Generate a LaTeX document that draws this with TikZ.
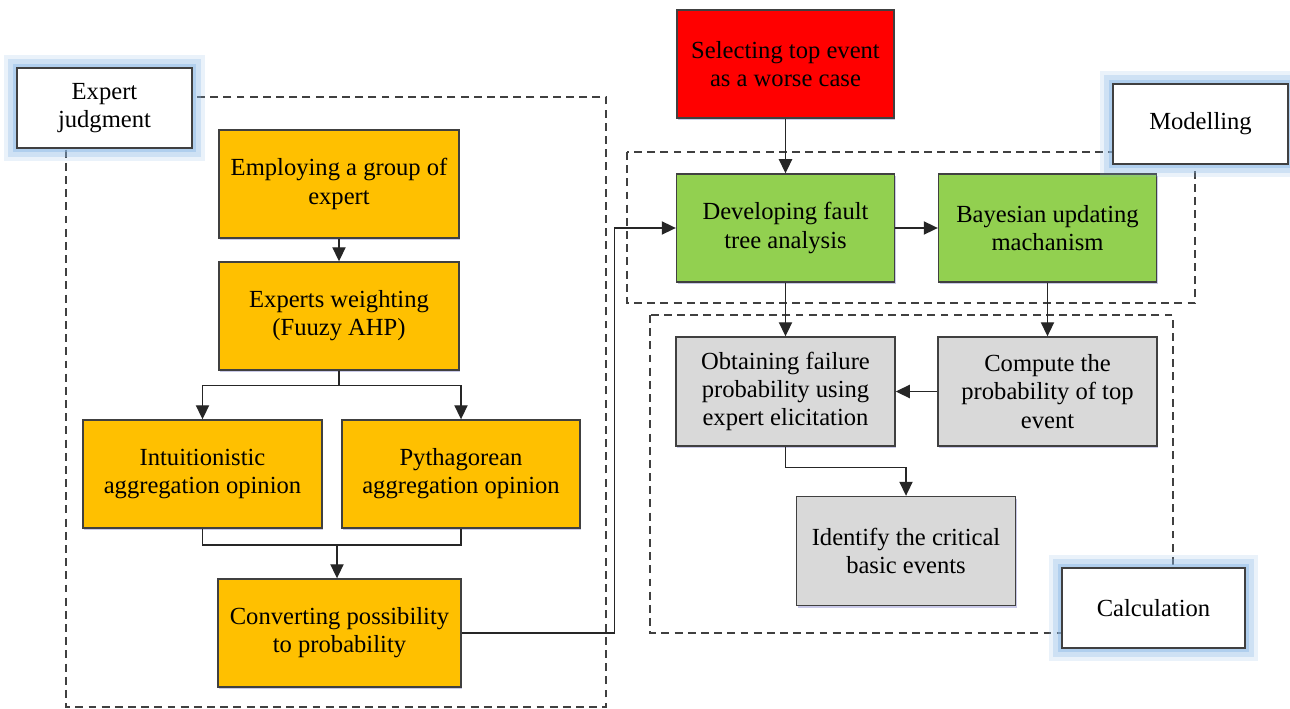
\documentclass[tikz,border=0pt]{standalone}
\usepackage{fontspec}
\setmainfont{Liberation Serif}
\usetikzlibrary{arrows.meta,shadows}

\definecolor{expertyellow}{HTML}{FFC000}
\definecolor{modelgreen}{HTML}{92D050}
\definecolor{calcgray}{HTML}{D9D9D9}
\definecolor{glowblue}{RGB}{140,185,230}

\begin{document}
\begin{tikzpicture}[x=0.02cm,y=-0.02cm]
    \tikzset{block/.style={draw=black!75, line width=0.8pt, shape=rectangle, align=center,
                 font=\fontsize{14}{16}\selectfont, inner sep=2pt,
                 drop shadow={shadow xshift=0.6pt, shadow yshift=-1.4pt, fill=blue!40!gray, opacity=0.3}},
             expert/.style={block, fill=expertyellow, minimum width=4.8cm, minimum height=2.16cm},
             model/.style={block, fill=modelgreen, minimum width=4.36cm, minimum height=2.16cm},
             calc/.style={block, fill=calcgray, minimum width=4.38cm, minimum height=2.18cm},
             tag/.style={draw=black!75, line width=0.8pt, fill=white, align=center,
                 font=\fontsize{14}{16}\selectfont, minimum width=3.5cm, minimum height=1.6cm,
                 preaction={draw=glowblue, line width=15pt, opacity=0.18, rounded corners=7pt},
                 preaction={draw=glowblue, line width=10pt, opacity=0.3, rounded corners=5pt},
                 preaction={draw=glowblue, line width=5pt, opacity=0.45, rounded corners=2pt}},
             frame/.style={draw=black!75, line width=0.8pt, dash pattern=on 4.5pt off 3pt},
             arr/.style={draw=black!85, line width=0.8pt, -{Triangle[length=8pt,width=7.5pt]}},
             line/.style={draw=black!85, line width=0.8pt}}
    \useasboundingbox (0,0) rectangle (1290,709);

    % group frames
    \draw[frame] (66,97) rectangle (606,707);
    \draw[frame] (627,152) rectangle (1195,303);
    \draw[frame] (650,315) rectangle (1173,633);

    % expert judgment
    \node[expert] (employ) at (339,184) {Employing a group of\\expert};
    \node[expert] (weight) at (339,316) {Experts weighting\\(Fuuzy AHP)};
    \node[expert, minimum width=4.78cm] (intuit) at (202.5,474) {Intuitionistic\\aggregation opinion};
    \node[expert, minimum width=4.76cm] (pytha) at (461,474) {Pythagorean\\aggregation opinion};
    \node[expert, minimum width=4.86cm] (convert) at (339.5,633) {Converting possibility\\to probability};
    \coordinate (join) at (337,545);

    % modelling and calculation
    \node[block, fill=red, minimum width=4.34cm, minimum height=2.16cm] (select) at (785.5,64) {Selecting top event\\as a worse case};
    \node[model] (develop) at (785.5,228) {Developing fault\\tree analysis};
    \node[model] (bayes) at (1047.5,228) {Bayesian updating\\machanism};
    \node[calc] (obtain) at (785.5,391.5) {Obtaining failure\\probability using\\expert elicitation};
    \node[calc] (compute) at (1047.5,391.5) {Compute the\\probability of top\\event};
    \node[calc] (identify) at (906,551) {Identify the critical\\basic events};

    % tags
    \node[tag] (experttag) at (104.5,108) {Expert\\judgment};
    \node[tag] (modeltag) at (1200.5,124) {Modelling};
    \node[tag, minimum width=3.66cm] (calctag) at (1153.5,608) {Calculation};

    \draw[arr] (employ) -- (weight);
    \draw[arr] (weight.south) -- ++(0,15) -| (intuit.north);
    \draw[arr] (weight.south) -- ++(0,15) -| (pytha.north);
    \draw[line] (intuit.south) |- (join) -| (pytha.south);
    \draw[arr] (join) -- (join |- convert.north);
    \draw[arr] (convert.east) -- ++(153,0) |- (develop.west);

    \draw[arr] (select) -- (develop);
    \draw[arr] (develop) -- (bayes);
    \draw[arr] (develop) -- (obtain);
    \draw[arr] (bayes) -- (compute);
    \draw[arr] (compute) -- (obtain);
    \draw[arr] (obtain.south) -- ++(0,21) -| (identify.north);
\end{tikzpicture}
\end{document}
